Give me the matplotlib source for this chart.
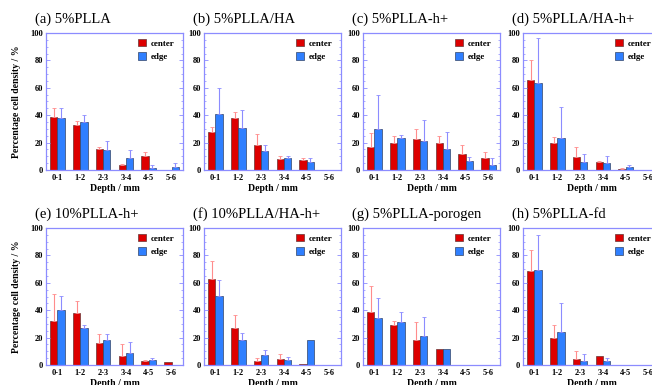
import numpy as np
import matplotlib
matplotlib.use("Agg")
import matplotlib.pyplot as plt
from matplotlib.ticker import MultipleLocator

plt.rcParams['font.family'] = ['Liberation Serif', 'DejaVu Serif']

depths = ['0-1', '1-2', '2-3', '3-4', '4-5', '5-6']
titles = ['(a) 5%PLLA', '(b) 5%PLLA/HA', '(c) 5%PLLA-h+', '(d) 5%PLLA/HA-h+',
          '(e) 10%PLLA-h+', '(f) 10%PLLA/HA-h+', '(g) 5%PLLA-porogen', '(h) 5%PLLA-fd']

center = [
    [38.7, 33.0, 15.2, 3.4, 10.2, 0.0],
    [28.0, 38.0, 18.0, 8.0, 7.0, 0.0],
    [17.0, 20.0, 22.5, 19.5, 12.0, 9.0],
    [65.5, 19.5, 9.5, 5.5, 0.7, 0.0],
    [32.0, 37.8, 16.0, 6.6, 3.2, 2.2],
    [63.0, 27.3, 3.2, 4.4, 0.7, 0.0],
    [38.5, 29.5, 18.3, 12.0, 0.0, 0.0],
    [68.8, 20.0, 4.1, 6.3, 0.0, 0.0],
]
center_err = [
    [6.3, 3.0, 1.5, 1.2, 2.6, 0.0],
    [3.5, 4.0, 8.0, 2.5, 2.0, 0.0],
    [10.0, 4.5, 7.5, 5.5, 6.0, 4.0],
    [14.5, 4.5, 7.5, 1.0, 0.8, 0.0],
    [19.7, 9.0, 6.7, 8.4, 0.4, 0.0],
    [13.0, 9.3, 1.8, 3.4, 0.0, 0.0],
    [19.3, 2.5, 13.4, 0.0, 0.0, 0.0],
    [14.9, 9.3, 6.4, 0.0, 0.0, 0.0],
]
edge = [
    [37.8, 35.0, 14.5, 8.5, 1.5, 2.5],
    [41.0, 30.5, 14.0, 8.5, 5.5, 0.0],
    [30.0, 23.5, 21.0, 15.0, 6.5, 3.5],
    [63.5, 23.5, 5.5, 5.0, 2.5, 0.0],
    [39.8, 27.0, 18.0, 9.0, 3.7, 0.0],
    [50.5, 18.0, 7.3, 3.9, 18.5, 0.0],
    [34.0, 31.2, 21.0, 12.0, 0.0, 0.0],
    [69.0, 24.0, 3.2, 2.7, 0.0, 0.0],
]
edge_err = [
    [7.2, 5.0, 7.0, 6.0, 1.9, 2.5],
    [19.0, 13.0, 4.5, 2.0, 3.5, 0.0],
    [24.5, 2.0, 15.5, 12.5, 3.0, 5.5],
    [32.5, 22.5, 6.5, 5.0, 1.0, 0.0],
    [10.9, 2.0, 4.7, 8.0, 1.3, 0.0],
    [11.2, 5.4, 3.7, 2.1, 0.0, 0.0],
    [15.0, 7.6, 14.4, 0.0, 0.0, 0.0],
    [26.0, 21.0, 4.8, 2.7, 0.0, 0.0],
]

frame = '#8c8cff'
red = '#dd0000'
blue = '#2f7fff'

fig = plt.figure(figsize=(6.52, 3.85), dpi=100)
lefts = [46, 204, 363, 523]
tops = [33, 228]
W, H = 137, 137

x = np.arange(len(depths))
bw = 0.32
for i in range(8):
    row, col = divmod(i, 4)
    ax = fig.add_axes([lefts[col] / 652, 1 - (tops[row] + H) / 385, W / 652, H / 385])
    c = np.array(center[i]); ce = np.array(center_err[i])
    e = np.array(edge[i]); ee = np.array(edge_err[i])
    ax.bar(x - bw / 2, c, bw, color=red, edgecolor='#663333', linewidth=0.5, label='center')
    ax.bar(x + bw / 2, e, bw, color=blue, edgecolor='#334466', linewidth=0.5, label='edge')
    m = ce > 0
    ax.errorbar(x[m] - bw / 2, c[m], yerr=[np.zeros(m.sum()), ce[m]], fmt='none',
                ecolor='#ff8c8c', elinewidth=0.8, capsize=1.5, capthick=0.6)
    m = ee > 0
    ax.errorbar(x[m] + bw / 2, e[m], yerr=[np.zeros(m.sum()), ee[m]], fmt='none',
                ecolor='#8c8cff', elinewidth=0.8, capsize=1.5, capthick=0.6)
    ax.set_xlim(-0.5, 5.5)
    ax.set_ylim(0, 100)
    ax.set_xticks(x)
    ax.set_xticklabels(depths, fontsize=6, fontweight='bold')
    ax.yaxis.set_major_locator(MultipleLocator(20))
    ax.yaxis.set_minor_locator(MultipleLocator(5))
    ax.tick_params(axis='y', which='both', direction='in', right=True, colors=frame,
                   labelcolor='black', labelsize=6, pad=2)
    ax.tick_params(axis='y', which='major', length=3, width=0.6)
    ax.tick_params(axis='y', which='minor', length=1.5, width=0.5)
    ax.tick_params(axis='x', direction='in', length=0, pad=3)
    for lab in ax.get_yticklabels():
        lab.set_fontweight('bold')
    for s in ax.spines.values():
        s.set_color(frame)
        s.set_linewidth(0.9)
    ax.set_xlabel('Depth / mm', fontsize=7, fontweight='bold', labelpad=1)
    if col == 0:
        ax.set_ylabel('Percentage cell density / %', fontsize=7, fontweight='bold', labelpad=7)
    ax.text(-0.08, 1.10, titles[i], transform=ax.transAxes, fontsize=10.5,
            ha='left', va='center')
    ax.legend(loc='upper left', bbox_to_anchor=(0.62, 1.01), frameon=False,
              prop={'size': 6.5, 'weight': 'bold'}, handlelength=0.9, handleheight=0.9,
              handletextpad=0.5, labelspacing=0.5, borderpad=0.3)

fig.savefig('out.png', dpi=100)
